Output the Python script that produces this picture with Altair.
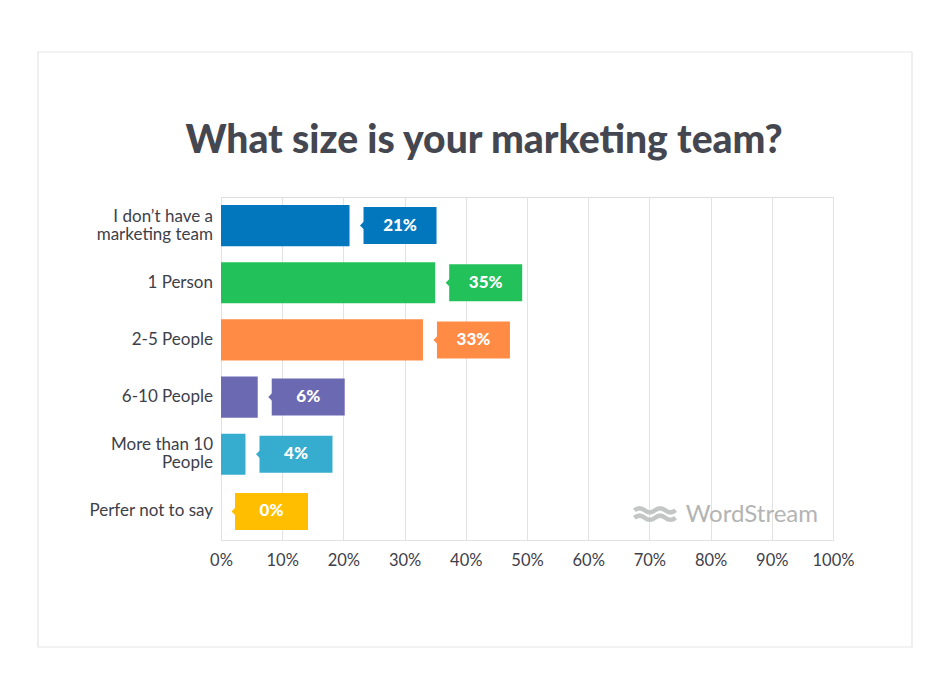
import altair as alt
import pandas as pd

categories = ["I don’t have a|marketing team", "1 Person", "2-5 People",
              "6-10 People", "More than 10 |People", "Perfer not to say"]
values = [21, 35, 33, 6, 4, 0]
labels = ["21%", "35%", "33%", "6%", "4%", "0%"]
colors = ["#0277bd", "#22c15a", "#ff8b45", "#6c69b3", "#36adcf", "#ffbe00"]
title_text = "What size is your marketing team?"
brand = "WordStream"

df = pd.DataFrame({"cat": categories, "value": values, "label": labels})

FONT = "Lato"
TXT = "#3e4049"

y_scale = alt.Scale(domain=categories, paddingInner=0.28, paddingOuter=0.14)
y_enc = alt.Y("cat:N", sort=categories, scale=y_scale, axis=None)
x_enc = alt.X("value:Q", scale=alt.Scale(domain=[0, 100], nice=False),
              axis=alt.Axis(title=None, values=list(range(0, 101, 10)),
                            labelExpr="datum.value + '%'", labelFontSize=16.5,
                            labelColor=TXT, labelFont=FONT, labelPadding=12,
                            ticks=False, grid=True, gridColor="#e2e2e2",
                            domainColor="#e2e2e2", labelFlush=False))
color_enc = alt.Color("cat:N", sort=categories,
                      scale=alt.Scale(domain=categories, range=colors), legend=None)

base = alt.Chart(df)

bars = base.mark_bar().encode(x=x_enc, y=y_enc, color=color_enc)

ylabels_single = base.transform_filter("indexof(datum.cat, '|') < 0").mark_text(
    align="right", baseline="middle", fontSize=17, font=FONT, color=TXT).encode(
    x=alt.value(-8), y=alt.Y("cat:N", sort=categories), text="cat:N")

ylabels_multi = base.transform_filter("indexof(datum.cat, '|') >= 0").mark_text(
    align="right", baseline="middle", lineBreak="|", fontSize=17, lineHeight=18,
    font=FONT, color=TXT, dy=-9).encode(
    x=alt.value(-8), y=alt.Y("cat:N", sort=categories), text="cat:N")

boxes = base.mark_bar(size=37, xOffset=14, x2Offset=87).encode(
    x="value:Q", x2="value:Q", y=alt.Y("cat:N", sort=categories), color=color_enc)

pointers = base.mark_point(shape="M 0 -1 L -1 0 L 0 1 Z", filled=True, opacity=1,
                           size=64, xOffset=14.5).encode(
    x="value:Q", y=alt.Y("cat:N", sort=categories), color=color_enc)

texts = base.mark_text(color="white", font=FONT, fontWeight=900, fontSize=17,
                       xOffset=50.5, align="center", baseline="middle").encode(
    x="value:Q", y=alt.Y("cat:N", sort=categories), text="label:N")

title = alt.Chart(pd.DataFrame({"t": [title_text]})).mark_text(
    font=FONT, fontSize=39, fontWeight=900, color="#454750",
    align="center", baseline="alphabetic"
).encode(x=alt.value(263), y=alt.value(-44), text="t:N")

logo_text = alt.Chart(pd.DataFrame({"t": [brand]})).mark_text(
    font=FONT, fontSize=24, color="#b3b4b4", align="right", baseline="middle"
).encode(x=alt.value(597), y=alt.value(318), text="t:N")

wave_path = ("M -1 -0.18 Q -0.75 -0.38 -0.5 -0.18 T 0 -0.18 T 0.5 -0.18 T 1 -0.18 "
             "M -1 0.18 Q -0.75 -0.02 -0.5 0.18 T 0 0.18 T 0.5 0.18 T 1 0.18")
logo_wave = alt.Chart(pd.DataFrame({"t": [brand]})).mark_point(
    shape=wave_path, filled=False, stroke="#c4c5c5", strokeWidth=4.5,
    size=1700, opacity=1
).encode(x=alt.value(434), y=alt.value(317))

frame = alt.Chart(pd.DataFrame({"a": [0]})).mark_rect(
    fill=None, stroke="#e5e5e5", strokeWidth=1.2
).encode(x=alt.value(-183), x2=alt.value(691), y=alt.value(-145), y2=alt.value(450))

chart = alt.layer(frame, title, bars, ylabels_single, ylabels_multi, pointers,
                  boxes, texts, logo_wave, logo_text).properties(
    width=612, height=343,
    autosize=alt.AutoSizeParams(type="none"),
    padding={"left": 213, "top": 189, "right": 109, "bottom": 150},
).configure_view(fill="#f6f7f7", stroke=None).configure(background="white")

chart.save("out.html", embed_options={"renderer": "svg", "actions": False})
